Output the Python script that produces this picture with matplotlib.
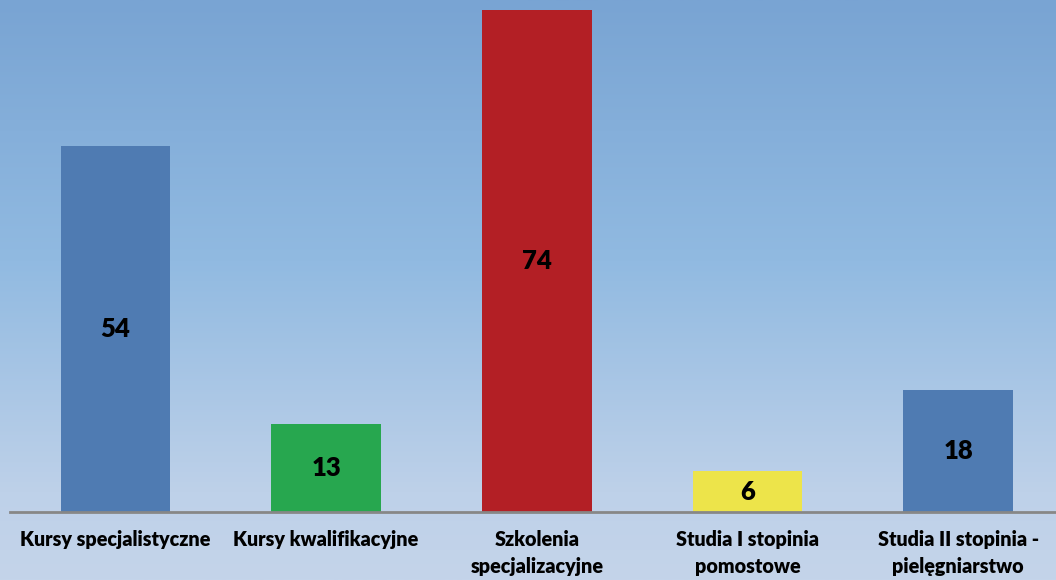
import matplotlib.pyplot as plt
import numpy as np
from matplotlib.colors import LinearSegmentedColormap

# dane wykresu
kategorie = ['Kursy specjalistyczne', 'Kursy kwalifikacyjne', 'Szkolenia\nspecjalizacyjne',
             'Studia I stopinia\npomostowe', 'Studia II stopinia -\npielęgniarstwo']
wartosci = [54, 13, 74, 6, 18]
kolory = ['#4F7BB2', '#27A74F', '#B31F25', '#EDE44A', '#4F7BB2']

plt.rcParams['font.family'] = ['Lato', 'DejaVu Sans']

fig = plt.figure(figsize=(10.56, 5.80), dpi=100)

# tło z gradientem (góra ciemniejsza, dół jaśniejszy)
tlo = fig.add_axes([0, 0, 1, 1], zorder=0)
cmap = LinearSegmentedColormap.from_list('tlo', [
    (0.0, (121/255, 164/255, 211/255)),
    (0.45, (145/255, 186/255, 225/255)),
    (0.85, (190/255, 209/255, 233/255)),
    (1.0, (196/255, 212/255, 234/255)),
])
grad = np.linspace(0, 1, 256).reshape(-1, 1)
tlo.imshow(grad, aspect='auto', cmap=cmap, extent=[0, 1, 0, 1], origin='upper')
tlo.axis('off')

ax = fig.add_axes([10/1056, 68/580, 1053.5/1056, 512/580], zorder=1)
ax.patch.set_alpha(0)

x = np.arange(len(kategorie))
slupki = ax.bar(x, wartosci, width=0.52, color=kolory, zorder=2)
ax.bar_label(slupki, label_type='center', fontsize=18.5, fontweight='heavy', color='black')

ax.set_xlim(-0.5, 4.5)
ax.set_ylim(0, 512 / 6.784)
ax.set_xticks(x)
ax.set_xticklabels(kategorie, fontsize=14.2, fontweight='heavy', linespacing=1.47)
ax.tick_params(axis='x', length=0, pad=13)
ax.set_yticks([])

for s in ['top', 'right', 'left']:
    ax.spines[s].set_visible(False)
ax.spines['bottom'].set_color('#878787')
ax.spines['bottom'].set_linewidth(2)
ax.spines['bottom'].set_zorder(3)

plt.savefig('out.png', dpi=100)
plt.close()
